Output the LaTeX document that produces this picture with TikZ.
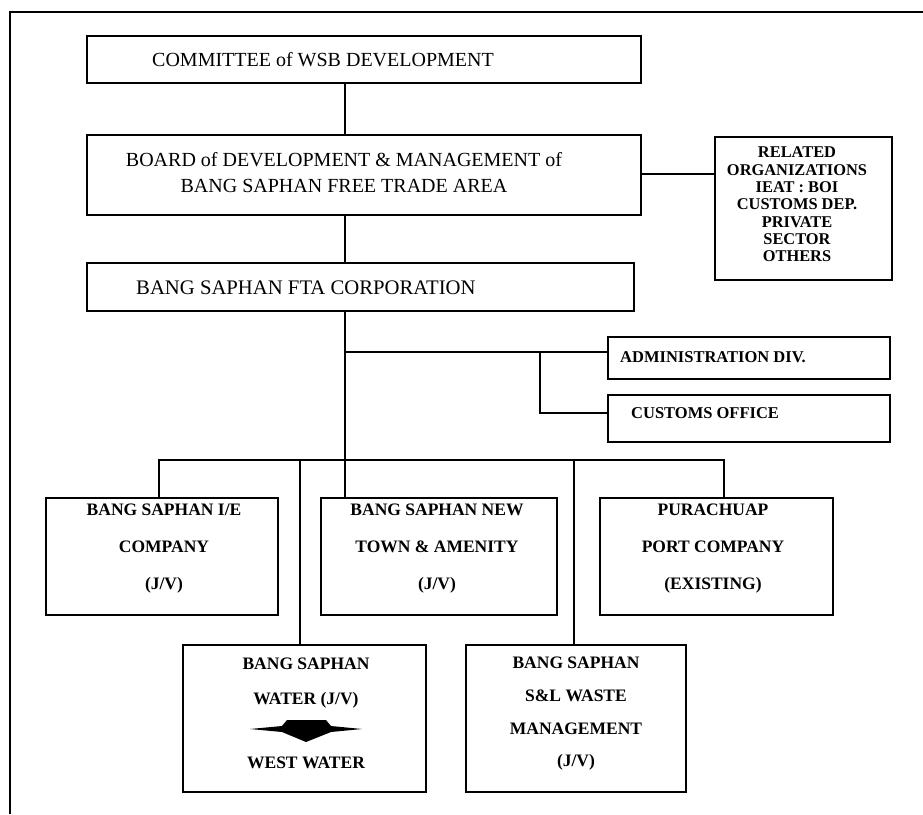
\documentclass[tikz,border=0pt]{standalone}
\usepackage{fontspec}
\setmainfont{Liberation Serif}
\newcommand\myfs[2]{\fontsize{#1}{#2}\selectfont}
\begin{document}
\begin{tikzpicture}[x=1pt,y=-1pt,
  box/.style={draw=black, line width=2pt, rectangle, inner sep=0pt},
  wire/.style={draw=black, line width=1.8pt},
  frame/.style={draw=black, line width=2.5pt},
  lbl/.style={inner sep=0pt, text=black},
  toplbl/.style={lbl, font=\myfs{20}{26}},
  smalllbl/.style={lbl, font=\myfs{16.4}{17.3}\bfseries, align=center},
  divlbl/.style={lbl, font=\myfs{16.5}{18}\bfseries},
  unitlbl/.style={lbl, font=\myfs{17.5}{37}\bfseries, align=center}]
\useasboundingbox (0,0) rectangle (923,814);
\fill[white] (0,0) rectangle (923,814);

% outer frame (only top and left edges visible)
\coordinate (f1) at (10,814);
\coordinate (f2) at (10,12);
\coordinate (f3) at (923,12);
\draw[frame] (f1) -- (f2) -- (f3);

% boxes
\node[box, minimum width=554pt, minimum height=47pt] (comm)  at (364,59.5) {};
\node[box, minimum width=554pt, minimum height=80pt] (board) at (364,175) {};
\node[box, minimum width=177pt, minimum height=143pt] (rel)  at (803.5,208.5) {};
\node[box, minimum width=547pt, minimum height=48pt] (corp)  at (360.5,287) {};
\node[box, minimum width=282pt, minimum height=42pt] (admin) at (749,358) {};
\node[box, minimum width=282pt, minimum height=47pt] (cust)  at (749,418.5) {};
\node[box, minimum width=232pt, minimum height=117pt] (ie)   at (162,556.5) {};
\node[box, minimum width=236pt, minimum height=117pt] (town) at (439,556.5) {};
\node[box, minimum width=233pt, minimum height=117pt] (port) at (716.5,556.5) {};
\node[box, minimum width=243pt, minimum height=147pt] (water) at (304.5,718.5) {};
\node[box, minimum width=220pt, minimum height=147pt] (waste) at (576,718.5) {};

% texts
\node[toplbl, anchor=west] (commt) at (152,60) {COMMITTEE of WSB DEVELOPMENT};
\node[toplbl, align=center] (boardt) at (344,172.5) {BOARD of DEVELOPMENT \& MANAGEMENT of\\BANG SAPHAN FREE TRADE AREA};
\node[toplbl, anchor=west, font=\myfs{20.7}{26}] (corpt) at (136,288) {BANG SAPHAN FTA CORPORATION};
\node[smalllbl] (relt) at (797,204.5) {RELATED\\ORGANIZATIONS\\IEAT : BOI\\CUSTOMS DEP.\\PRIVATE\\SECTOR\\OTHERS};
\node[divlbl, anchor=west] (admint) at (620,357) {ADMINISTRATION DIV.};
\node[divlbl, anchor=west] (custt) at (631,413) {CUSTOMS OFFICE};
\node[unitlbl] (iet) at (164,549) {BANG SAPHAN I/E\\COMPANY\\(J/V)};
\node[unitlbl] (townt) at (437,549) {BANG SAPHAN NEW\\TOWN \& AMENITY\\(J/V)};
\node[unitlbl] (portt) at (713,549) {PURACHUAP\\PORT COMPANY\\(EXISTING)};
\node[unitlbl, font=\myfs{17.5}{35}\bfseries] (watert) at (306,683) {BANG SAPHAN\\WATER (J/V)};
\node[unitlbl] (westt) at (306,763) {WEST WATER};
\node[unitlbl, font=\myfs{17.5}{32.7}\bfseries] (wastet) at (576,714) {BANG SAPHAN\\S\&L WASTE\\MANAGEMENT\\(J/V)};

% arrow mark in the water box
\fill[black] (250,729) -- (282,726) -- (287,720) -- (326,720) -- (331,726)
  -- (362,729) -- (331,732) -- (306,742) -- (282,732) -- cycle;

% connectors
\coordinate (m0) at (345,0);
\coordinate (h1) at (0,174);
\draw[wire] (comm.south -| m0) -- (board.north -| m0);
\draw[wire] (board.east |- h1) -- (rel.west |- h1);
\draw[wire] (board.south -| m0) -- (corp.north -| m0);
\draw[wire] (corp.south -| m0) -- (town.north -| m0);
\coordinate (j1) at (345,352);
\coordinate (j2) at (540,352);
\coordinate (j3) at (540,413);
\draw[wire] (j1) -- (admin.west |- j1);
\draw[wire] (j2) -- (j3) -- (cust.west |- j3);
\coordinate (b1) at (159,460);
\coordinate (b2) at (724,460);
\coordinate (b3) at (300,460);
\coordinate (b4) at (574,460);
\draw[wire] (ie.north -| b1) -- (b1) -- (b2) -- (port.north -| b2);
\draw[wire] (b3) -- (water.north -| b3);
\draw[wire] (b4) -- (waste.north -| b4);
\end{tikzpicture}
\end{document}
